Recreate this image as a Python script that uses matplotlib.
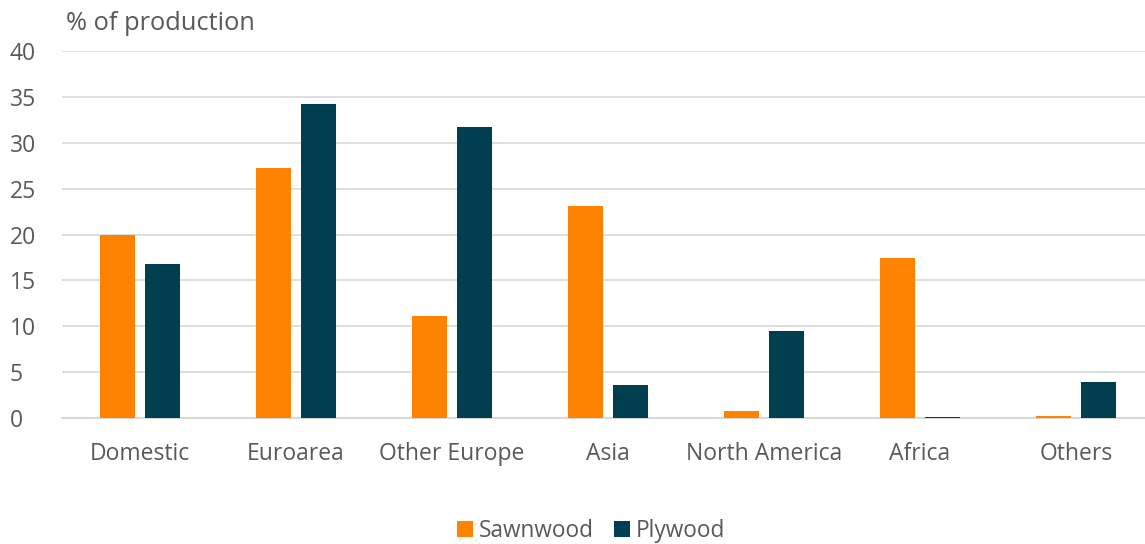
import numpy as np
import matplotlib
matplotlib.use("Agg")
import matplotlib.pyplot as plt

plt.rcParams['font.family'] = ['Open Sans', 'DejaVu Sans']

categories = ["Domestic", "Euroarea", "Other Europe", "Asia",
              "North America", "Africa", "Others"]
sawnwood = [20.0, 27.2, 11.1, 23.1, 0.8, 17.4, 0.25]
plywood = [16.8, 34.2, 31.7, 3.6, 9.5, 0.15, 3.9]

ORANGE = "#FF8300"
TEAL = "#003F50"
TEXT = "#595959"

fig = plt.figure(figsize=(11.45, 5.44), dpi=100)
ax = fig.add_axes([62 / 1145, 1 - 418 / 544, 1092 / 1145, 367 / 544])

x = np.arange(len(categories))
w = 0.225
gap = 0.032
ax.bar(x - w / 2 - gap, sawnwood, w, color=ORANGE, label="Sawnwood", zorder=3)
ax.bar(x + w / 2 + gap, plywood, w, color=TEAL, label="Plywood", zorder=3)

ax.set_xlim(-0.5, 6.5)
ax.set_ylim(0, 40)
ax.set_yticks(range(0, 41, 5))
ax.set_xticks(x)
ax.set_xticklabels(categories)
ax.yaxis.grid(True, color="#d9d9d9", linewidth=1.2, zorder=0)
ax.tick_params(axis="both", length=0, labelsize=16.5, colors=TEXT)
ax.tick_params(axis="x", pad=17)
ax.tick_params(axis="y", pad=37.5)
for lbl in ax.get_yticklabels():
    lbl.set_horizontalalignment("left")
for s in ["top", "right", "left"]:
    ax.spines[s].set_visible(False)
ax.spines["bottom"].set_color("#d9d9d9")
ax.spines["bottom"].set_linewidth(1.5)

fig.text(66 / 1145, 1 - 23 / 544, "% of production", fontsize=18.3,
         color=TEXT, va="center", ha="left")

fig.legend(loc="center", bbox_to_anchor=(591 / 1145, 1 - 531 / 544), ncol=2,
           frameon=False, fontsize=16.3, labelcolor=TEXT,
           handlelength=0.7, handleheight=0.7, handletextpad=0.25,
           columnspacing=0.9)

fig.savefig("out.png", dpi=100)
